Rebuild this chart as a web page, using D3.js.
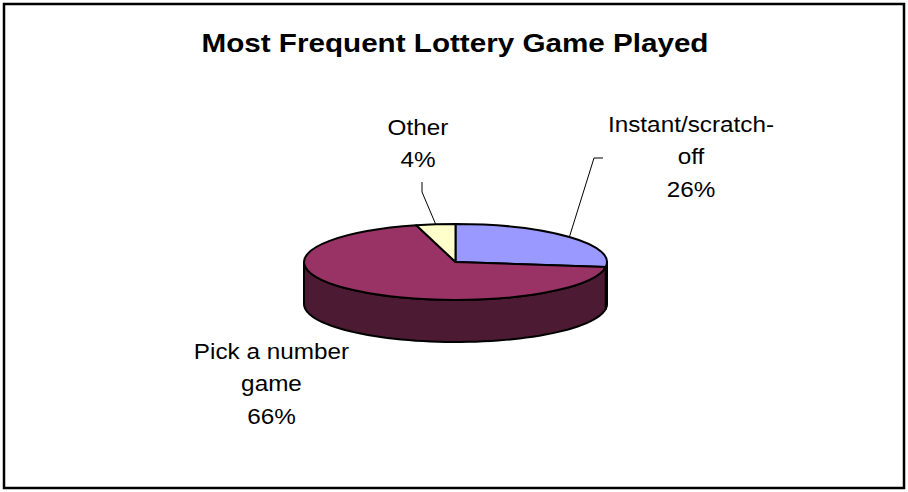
<!DOCTYPE html>
<html>
<head>
<meta charset="utf-8">
<script src="https://cdn.jsdelivr.net/npm/d3@7/dist/d3.min.js"></script>
<style>
  html, body { margin: 0; padding: 0; background: #fff; }
  svg { display: block; }
  text { font-family: "Liberation Sans", Arial, sans-serif; fill: #000; }
</style>
</head>
<body>
<svg id="chart" width="908" height="492"></svg>
<script>
// Survey answers: share of respondents by the lottery game they play most
const categories = ["Instant/scratch-off", "Pick a number game", "Other"];
const values = [26, 66, 4];
const labelLines = [["Instant/scratch-", "off"], ["Pick a number", "game"], ["Other"]];
const topColors = ["#9999FF", "#993366", "#FFFFCC"];
const sideColors = ["#4C4C80", "#4C1A33", "#808066"];
const title = "Most Frequent Lottery Game Played";

// Layout
const W = 908, H = 492;
const pie3d = { cx: 455.5, cy: 262, rx: 151.5, ry: 38, depth: 42 };
const labelLayout = [
  { x: 691, y: 132, leader: [[603, 158], [594, 158]] },
  { x: 271.5, y: 359, leader: null },
  { x: 418, y: 135, leader: [[422, 182], [422, 192]] }
];
const labelFont = 21.5, textStretch = 1.13, lineGap = 32.5;

const svg = d3.select("#chart");

svg.append("rect")
  .attr("x", 4).attr("y", 4)
  .attr("width", W - 8).attr("height", H - 8)
  .attr("fill", "#fff").attr("stroke", "#000").attr("stroke-width", 2.5);

// Title, drawn slightly wide like the rest of the chart text
svg.append("text")
  .attr("transform", `translate(${W / 2 + 1}, 52) scale(${textStretch + 0.01}, 1)`)
  .attr("text-anchor", "middle")
  .attr("font-size", 26)
  .attr("font-weight", "bold")
  .text(title);

const data = categories.map((c, i) => ({ name: c, value: values[i], i }));
const arcs = d3.pie().sort(null).value(d => d.value).startAngle(0).endAngle(2 * Math.PI)(data);

const { cx, cy, rx, ry, depth } = pie3d;
const rim = (a, dy = 0) => [cx + rx * Math.sin(a), cy - ry * Math.cos(a) + dy];

// Side walls: only the front half (angles between 90 and 270 degrees) is visible
const wallG = svg.append("g");
arcs.forEach(d => {
  const a0 = Math.max(d.startAngle, Math.PI / 2);
  const a1 = Math.min(d.endAngle, 3 * Math.PI / 2);
  if (a1 <= a0) return;
  const n = 60;
  const pts = [];
  for (let k = 0; k <= n; k++) pts.push(rim(a0 + (a1 - a0) * k / n));
  for (let k = n; k >= 0; k--) pts.push(rim(a0 + (a1 - a0) * k / n, depth));
  wallG.append("path")
    .attr("d", d3.line().curve(d3.curveLinearClosed)(pts))
    .attr("fill", sideColors[d.data.i])
    .attr("stroke", "#000")
    .attr("stroke-width", 2)
    .attr("stroke-linejoin", "round");
});

// Top faces: flat arcs squashed into an ellipse
const arcGen = d3.arc().innerRadius(0).outerRadius(rx);
svg.append("g")
  .attr("transform", `translate(${cx},${cy}) scale(1,${ry / rx})`)
  .selectAll("path")
  .data(arcs)
  .join("path")
  .attr("d", arcGen)
  .attr("fill", d => topColors[d.data.i])
  .attr("stroke", "#000")
  .attr("stroke-width", 2)
  .attr("stroke-linejoin", "round")
  .attr("vector-effect", "non-scaling-stroke");

// Leader lines from label to slice rim midpoint
arcs.forEach(d => {
  const L = labelLayout[d.data.i];
  if (!L.leader) return;
  const mid = (d.startAngle + d.endAngle) / 2;
  const pts = [...L.leader, rim(mid)];
  svg.append("path")
    .attr("d", d3.line()(pts))
    .attr("fill", "none")
    .attr("stroke", "#000")
    .attr("stroke-width", 1);
});

// Data labels: category name lines followed by the percentage
arcs.forEach(d => {
  const L = labelLayout[d.data.i];
  const lines = [...labelLines[d.data.i], `${d.data.value}%`];
  const t = svg.append("text")
    .attr("transform", `translate(${L.x},${L.y}) scale(${textStretch},1)`)
    .attr("text-anchor", "middle")
    .attr("font-size", labelFont);
  lines.forEach((s, k) => {
    t.append("tspan").attr("x", 0).attr("y", k * lineGap).text(s);
  });
});
</script>
</body>
</html>
